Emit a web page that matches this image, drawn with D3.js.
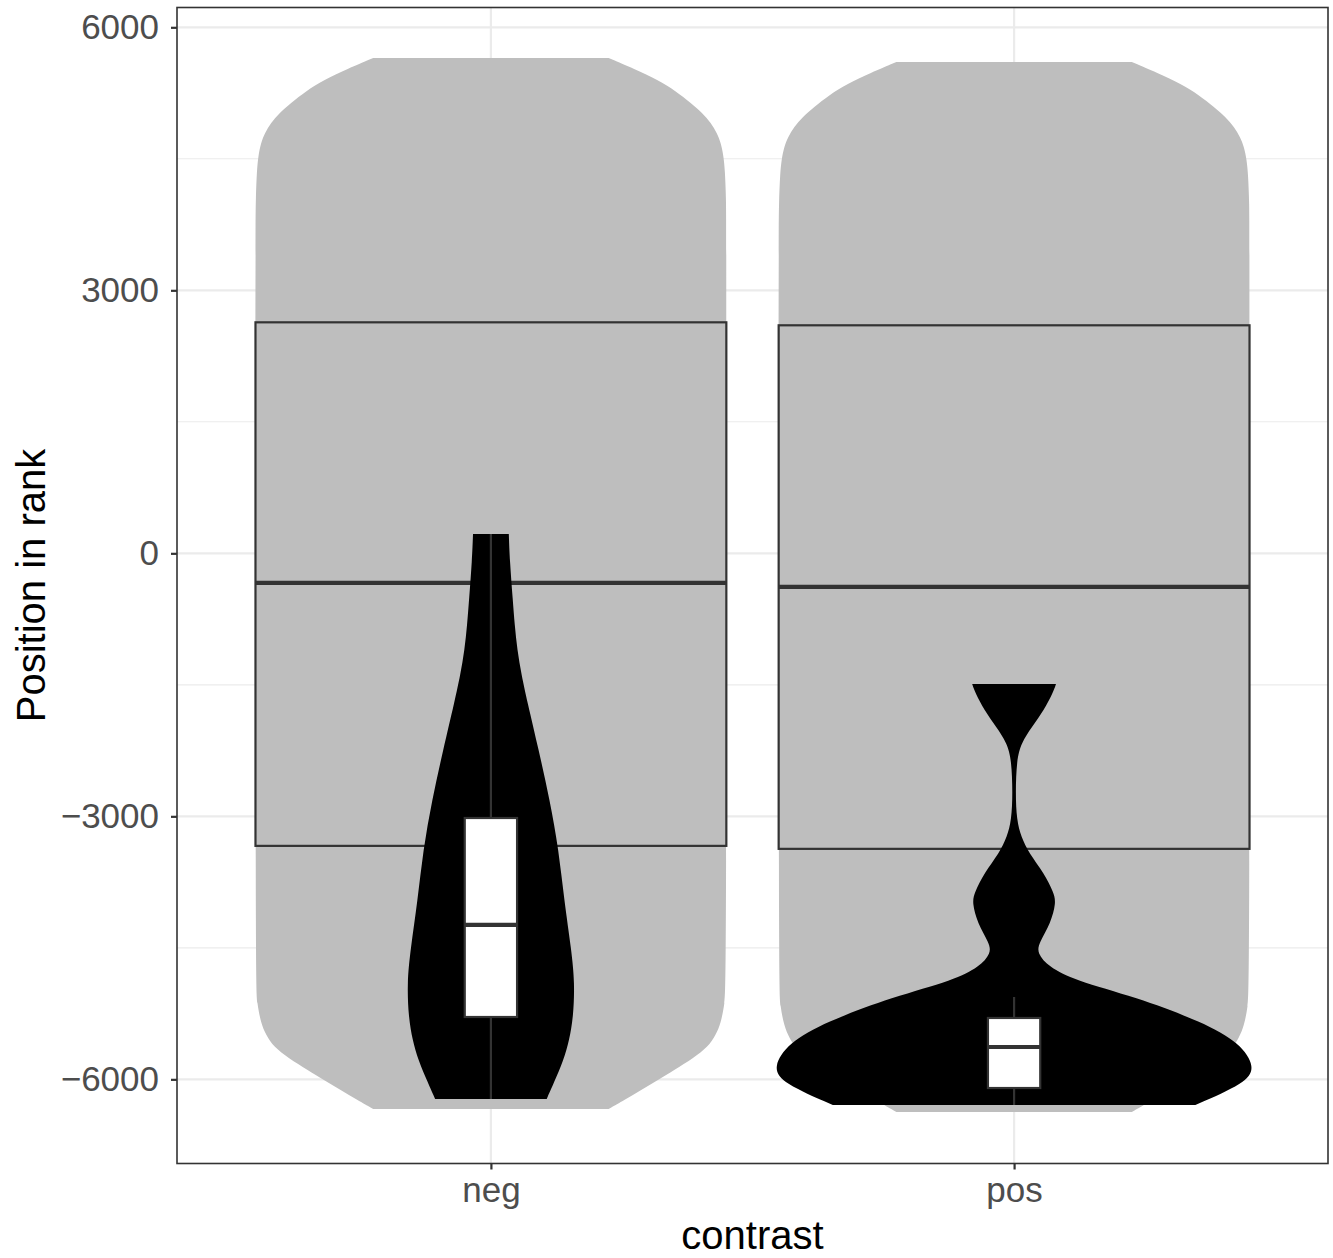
<!DOCTYPE html>
<html>
<head>
<meta charset="utf-8">
<script src="https://cdn.jsdelivr.net/npm/d3@7"></script>
<style>
  html, body { margin: 0; padding: 0; background: #fff; }
  svg { display: block; font-family: "Liberation Sans", Arial, sans-serif; }
</style>
</head>
<body>
<svg id="chart" width="1333" height="1258"></svg>
<script>
// ---------------- data ----------------
const categories = ["neg", "pos"];
const yTicks = [-6000, -3000, 0, 3000, 6000];
const yTickLabels = ["\u22126000", "\u22123000", "0", "3000", "6000"];
const yMinorTicks = [-4500, -1500, 1500, 4500];
const yDomain = [-6960, 6226];

// grey (background) violins: [value, relative width]
const greyViolinNeg = [
  [5650, 0.50], [5524, 0.61], [5399, 0.71], [5273, 0.785], [5137, 0.85],
  [5022, 0.898], [4909, 0.935], [4794, 0.96], [4681, 0.977], [4532, 0.988],
  [4373, 0.994], [4031, 0.999], [3689, 1.0], [-4901, 1.0], [-5129, 0.993],
  [-5357, 0.977], [-5494, 0.955], [-5631, 0.922], [-5757, 0.86], [-5894, 0.778],
  [-6008, 0.71], [-6122, 0.638], [-6236, 0.568], [-6339, 0.50]
];
const greyViolinPos = [
  [5604, 0.50], [5478, 0.61], [5353, 0.71], [5227, 0.785], [5091, 0.85],
  [4976, 0.898], [4863, 0.935], [4748, 0.96], [4635, 0.977], [4486, 0.988],
  [4327, 0.994], [3985, 0.999], [3643, 1.0], [-4935, 1.0], [-5163, 0.993],
  [-5391, 0.977], [-5528, 0.955], [-5665, 0.922], [-5791, 0.86], [-5928, 0.778],
  [-6042, 0.71], [-6156, 0.638], [-6270, 0.568], [-6373, 0.50]
];
// grey boxplots: [q1, median, q3]
const greyBoxNeg = [-3337, -337, 2635];
const greyBoxPos = [-3371, -382, 2601];

// black (foreground) violins: [value, relative width]
const blackViolinNeg = [
  [220, 0.076], [-76, 0.080], [-533, 0.093], [-818, 0.101], [-1103, 0.112],
  [-1388, 0.130], [-1673, 0.153], [-2244, 0.203], [-2814, 0.250], [-3384, 0.288],
  [-3955, 0.311], [-4525, 0.342], [-4901, 0.356], [-5289, 0.350], [-5551, 0.333],
  [-5779, 0.309], [-6042, 0.267], [-6224, 0.237]
];
const blackViolinPos = [
  [-1491, 0.178], [-1593, 0.165], [-1787, 0.127], [-1981, 0.076], [-2164, 0.030],
  [-2358, 0.011], [-2734, 0.006], [-3042, 0.011], [-3236, 0.030], [-3418, 0.063],
  [-3646, 0.127], [-3874, 0.169], [-3988, 0.178], [-4216, 0.156], [-4445, 0.106],
  [-4559, 0.097], [-4719, 0.148], [-4867, 0.254], [-5061, 0.516], [-5346, 0.800],
  [-5586, 0.960], [-5860, 1.025], [-6042, 0.985], [-6293, 0.770]
];
// small boxplots: [lowWhisker, q1, median, q3, highWhisker]
const smallBoxNeg = [-6224, -5289, -4239, -3019, 220];
const smallBoxPos = [-6293, -6099, -5631, -5300, -5061];

// ---------------- layout ----------------
const panel = { left: 177, right: 1328, top: 7.5, bottom: 1163.5 };
const svg = d3.select("#chart");

const x = d3.scalePoint().domain(categories).range([panel.left, panel.right]).padding(0.6);
const y = d3.scaleLinear().domain(yDomain).range([panel.bottom, panel.top]);
const step = x.step();
const halfW = d3.scaleLinear().domain([0, 1]).range([0, 0.45 * step]);

// gridlines
const grid = svg.append("g");
grid.selectAll(".minor").data(yMinorTicks).join("line")
  .attr("x1", panel.left).attr("x2", panel.right)
  .attr("y1", d => y(d)).attr("y2", d => y(d))
  .attr("stroke", "#EBEBEB").attr("stroke-width", 1.1);
grid.selectAll(".major").data(yTicks).join("line")
  .attr("x1", panel.left).attr("x2", panel.right)
  .attr("y1", d => y(d)).attr("y2", d => y(d))
  .attr("stroke", "#EBEBEB").attr("stroke-width", 2.2);
grid.selectAll(".vmajor").data(categories).join("line")
  .attr("x1", d => x(d)).attr("x2", d => x(d))
  .attr("y1", panel.top).attr("y2", panel.bottom)
  .attr("stroke", "#EBEBEB").attr("stroke-width", 2.2);

function violin(g, cat, prof, fill) {
  const cx = x(cat);
  const area = d3.area()
    .y(d => y(d[0]))
    .x0(d => cx - halfW(d[1]))
    .x1(d => cx + halfW(d[1]))
    .curve(d3.curveBasis);
  g.append("path").datum(prof).attr("d", area).attr("fill", fill).attr("stroke", "none");
}

function bigBox(g, cat, b) {
  const cx = x(cat), w = 0.45 * step;
  g.append("rect").attr("x", cx - w).attr("width", 2 * w)
    .attr("y", y(b[2])).attr("height", y(b[0]) - y(b[2]))
    .attr("fill", "none").attr("stroke", "#333333").attr("stroke-width", 2.2);
  g.append("line").attr("x1", cx - w).attr("x2", cx + w)
    .attr("y1", y(b[1])).attr("y2", y(b[1]))
    .attr("stroke", "#333333").attr("stroke-width", 4.2);
}

function smallBox(g, cat, b) {
  const cx = x(cat), w = 0.05 * step;
  g.append("line").attr("x1", cx).attr("x2", cx).attr("y1", y(b[3])).attr("y2", y(b[4]))
    .attr("stroke", "#333333").attr("stroke-width", 2.2);
  g.append("line").attr("x1", cx).attr("x2", cx).attr("y1", y(b[1])).attr("y2", y(b[0]))
    .attr("stroke", "#333333").attr("stroke-width", 2.2);
  g.append("rect").attr("x", cx - w).attr("width", 2 * w)
    .attr("y", y(b[3])).attr("height", y(b[1]) - y(b[3]))
    .attr("fill", "#FFFFFF").attr("stroke", "#333333").attr("stroke-width", 2.2);
  g.append("line").attr("x1", cx - w).attr("x2", cx + w)
    .attr("y1", y(b[2])).attr("y2", y(b[2]))
    .attr("stroke", "#333333").attr("stroke-width", 4.2);
}

const marks = svg.append("g");
violin(marks, "neg", greyViolinNeg, "#BEBEBE");
violin(marks, "pos", greyViolinPos, "#BEBEBE");
bigBox(marks, "neg", greyBoxNeg);
bigBox(marks, "pos", greyBoxPos);
violin(marks, "neg", blackViolinNeg, "#000000");
violin(marks, "pos", blackViolinPos, "#000000");
smallBox(marks, "neg", smallBoxNeg);
smallBox(marks, "pos", smallBoxPos);

// panel border
svg.append("rect")
  .attr("x", panel.left).attr("y", panel.top)
  .attr("width", panel.right - panel.left).attr("height", panel.bottom - panel.top)
  .attr("fill", "none").attr("stroke", "#333333").attr("stroke-width", 1.6);

// y axis
const yAxis = d3.axisLeft(y).tickValues(yTicks)
  .tickFormat((d, i) => yTickLabels[i]).tickSizeOuter(0).tickSize(6).tickPadding(12);
const gy = svg.append("g").attr("transform", `translate(${panel.left},0)`).call(yAxis);
gy.select(".domain").remove();
gy.selectAll(".tick line").attr("stroke", "#333333").attr("stroke-width", 2.2);
gy.selectAll(".tick text").attr("fill", "#4D4D4D").attr("font-size", 35)
  .attr("font-family", "'Liberation Sans', Arial, sans-serif");

// x axis
const xAxis = d3.axisBottom(x).tickSizeOuter(0).tickSize(6).tickPadding(8);
const gx = svg.append("g").attr("transform", `translate(0,${panel.bottom})`).call(xAxis);
gx.select(".domain").remove();
gx.selectAll(".tick line").attr("stroke", "#333333").attr("stroke-width", 2.2);
gx.selectAll(".tick text").attr("fill", "#4D4D4D").attr("font-size", 35)
  .attr("font-family", "'Liberation Sans', Arial, sans-serif");

// axis titles
svg.append("text").attr("x", (panel.left + panel.right) / 2).attr("y", 1249)
  .attr("text-anchor", "middle").attr("font-size", 40).attr("fill", "#000")
  .text("contrast");
svg.append("text")
  .attr("transform", `translate(45,${(panel.top + panel.bottom) / 2}) rotate(-90)`)
  .attr("text-anchor", "middle").attr("font-size", 40).attr("fill", "#000")
  .text("Position in rank");
</script>
</body>
</html>
